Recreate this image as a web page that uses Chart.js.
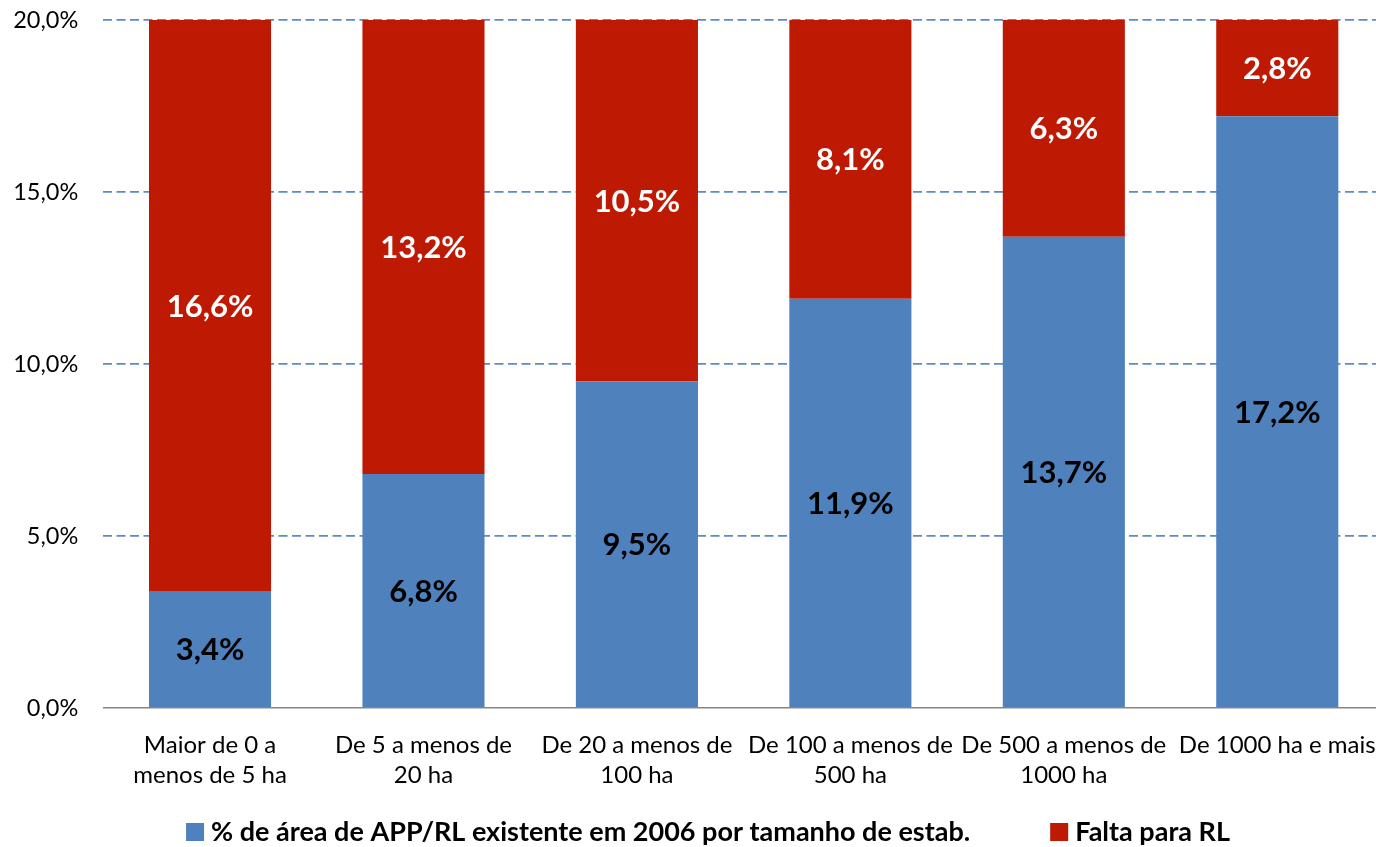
<!DOCTYPE html>
<html>
<head>
<meta charset="utf-8">
<script src="https://cdn.jsdelivr.net/npm/chart.js@4/dist/chart.umd.min.js"></script>
<style>
  html, body { margin: 0; padding: 0; background: #fff; overflow: hidden; }
  #wrap { width: 1384px; height: 847px; position: relative; }
</style>
</head>
<body>
<div id="wrap"><canvas id="c"></canvas></div>
<script>
// Size classes of establishments (two-line labels)
const categories = [
  ['Maior de 0 a', 'menos de 5 ha'],
  ['De 5 a menos de', '20 ha'],
  ['De 20 a menos de', '100 ha'],
  ['De 100 a menos de', '500 ha'],
  ['De 500 a menos de', '1000 ha'],
  ['De 1000 ha e mais']
];
// Share of existing APP/RL area in 2006, and what is missing to reach RL (%)
const existente = [3.4, 6.8, 9.5, 11.9, 13.7, 17.2];
const falta = [16.6, 13.2, 10.5, 8.1, 6.3, 2.8];
const seriesNames = ['% de área de APP/RL existente em 2006 por tamanho de estab.', 'Falta para RL'];
const yTicks = [0, 5, 10, 15, 20];

const FONT = 'Lato, "Open Sans", sans-serif';
const fmt = v => v.toFixed(1).replace('.', ',') + '%';

// Writes each segment's value in its middle
const segmentLabels = {
  id: 'segmentLabels',
  afterDatasetsDraw(chart) {
    const ctx = chart.ctx;
    ctx.save();
    ctx.font = 'bold 31px ' + FONT;
    ctx.textAlign = 'center';
    ctx.textBaseline = 'middle';
    chart.data.datasets.forEach((ds, i) => {
      const meta = chart.getDatasetMeta(i);
      ctx.fillStyle = ds.labelColor;
      meta.data.forEach((el, j) => {
        const p = el.getProps(['x', 'y', 'base'], true);
        ctx.fillText(fmt(ds.data[j]), p.x, (p.y + p.base) / 2 + 1);
      });
    });
    ctx.restore();
  }
};

// Single-row legend under the axis labels, centred on the plot
const bottomLegend = {
  id: 'bottomLegend',
  afterDraw(chart, args, opts) {
    const ctx = chart.ctx;
    ctx.save();
    ctx.font = 'bold ' + opts.size + 'px ' + FONT;
    ctx.textBaseline = 'middle';
    const items = chart.data.datasets.map(ds => ({
      text: ds.label, color: ds.backgroundColor, w: ctx.measureText(ds.label).width
    }));
    const total = items.reduce((s, it) => s + opts.box + opts.gap + it.w, 0) + opts.spacing * (items.length - 1);
    let x = opts.centerX - total / 2;
    const y = opts.y;
    items.forEach(it => {
      ctx.fillStyle = it.color;
      ctx.fillRect(x, y - opts.box / 2, opts.box, opts.box);
      x += opts.box + opts.gap;
      ctx.fillStyle = '#000';
      ctx.fillText(it.text, x, y);
      x += it.w + opts.spacing;
    });
    ctx.restore();
  }
};

new Chart(document.getElementById('c'), {
  type: 'bar',
  data: {
    labels: categories,
    datasets: [
      { label: seriesNames[0], data: existente, backgroundColor: '#4F81BD', labelColor: '#000000' },
      { label: seriesNames[1], data: falta, backgroundColor: '#BD1903', labelColor: '#FFFFFF' }
    ]
  },
  options: {
    responsive: true,
    maintainAspectRatio: false,
    animation: false,
    layout: { padding: { top: 20, left: 0, right: 0, bottom: 0 } },
    datasets: { bar: { categoryPercentage: 1, barPercentage: 0.572 } },
    plugins: {
      legend: { display: false },
      tooltip: { enabled: false },
      bottomLegend: { size: 27, box: 18, gap: 7, spacing: 80, centerX: 708, y: 832 }
    },
    scales: {
      x: {
        stacked: true,
        afterFit(scale) {
          scale.height = 139;
          scale.paddingLeft = 0;
          scale.paddingRight = 0;
        },
        grid: { display: false, drawTicks: false },
        border: { display: true, color: '#868686', width: 1.5 },
        ticks: {
          font: { family: FONT, size: 24, lineHeight: 1.25 },
          color: '#000',
          padding: 22,
          maxRotation: 0,
          autoSkip: false
        }
      },
      y: {
        stacked: true,
        min: 0,
        max: 20,
        afterFit(scale) {
          scale.width = 103.3;
          scale.paddingTop = 0;
          scale.paddingBottom = 0;
        },
        afterBuildTicks(scale) { scale.ticks = yTicks.map(v => ({ value: v })); },
        grid: {
          color: ctx => ctx.tick && ctx.tick.value === 0 ? 'rgba(0,0,0,0)' : '#5B8BCC',
          lineWidth: 1.8,
          drawTicks: false
        },
        border: { display: false, dash: [9, 4.5] },
        ticks: {
          font: { family: FONT, size: 23.5 },
          color: '#000',
          padding: 25,
          callback: v => fmt(v)
        }
      }
    }
  },
  plugins: [segmentLabels, bottomLegend]
});
</script>
</body>
</html>
